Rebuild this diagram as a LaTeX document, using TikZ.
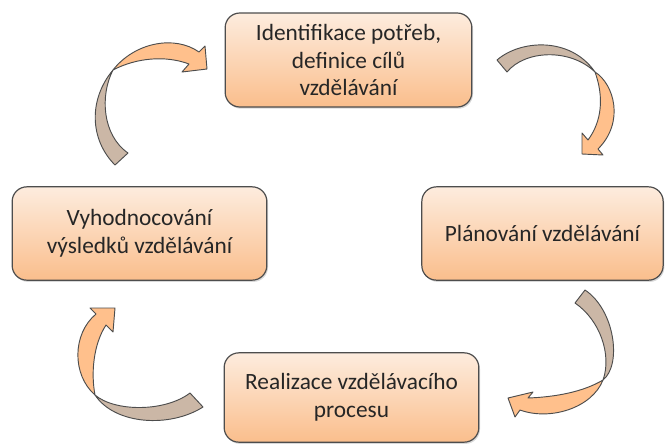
\documentclass[tikz,border=0pt]{standalone}
\usepackage{fontspec}
\setmainfont{Carlito}
\usetikzlibrary{shadows}
\definecolor{boxtop}{RGB}{253,236,222}
\definecolor{boxbot}{RGB}{250,190,140}
\definecolor{arrtan}{RGB}{203,183,166}
\definecolor{arrorange}{RGB}{255,192,140}
\definecolor{edgegray}{RGB}{77,77,77}
\definecolor{txtgray}{RGB}{38,38,38}
\begin{document}
\begin{tikzpicture}[x=0.75pt,y=-0.75pt,
  stagebox/.style={draw=edgegray, line width=0.9pt, rounded corners=11pt,
    top color=boxtop, bottom color=boxbot, text=txtgray, align=center,
    font=\fontsize{17.5}{20.6}\selectfont, inner sep=0pt,
    drop shadow={shadow xshift=0.9pt, shadow yshift=-1.3pt, opacity=0.3}},
  backband/.style={draw=edgegray, line width=0.7pt, line join=round, fill=arrtan},
  frontband/.style={draw=edgegray, line width=0.7pt, line join=round, fill=arrorange}]
\useasboundingbox (0,0) rectangle (667,444);

% stage boxes
\node[stagebox, minimum width=185pt, minimum height=70.5pt] (ident) at (348.5,60)
  {Identifikace potřeb,\\definice cílů\\vzdělávání};
\node[stagebox, minimum width=181pt, minimum height=70pt] (plan) at (542.5,233.5)
  {Plánování vzdělávání};
\node[stagebox, minimum width=191pt, minimum height=67pt] (real) at (351.5,397.5)
  {Realizace vzdělávacího\\procesu};
\node[stagebox, minimum width=191pt, minimum height=70pt] (eval) at (139.5,233.5)
  {Vyhodnocování\\výsledků vzdělávání};

% top-right arrow
\draw[backband] (497,60) .. controls (520,40) and (570,36) .. (595,72)
  .. controls (570,48) and (525,50) .. (507,72) -- cycle;
\draw[frontband] (595,72) .. controls (614,84) and (625,122) .. (598,149)
  -- (603,155) -- (582,154) -- (582,133) -- (588,140)
  .. controls (602,121) and (604,97) .. (595,72) -- cycle;

% bottom-right arrow
\draw[backband] (585,290) .. controls (615,310) and (622,365) .. (603,380)
  .. controls (612,355) and (600,320) .. (575,303) -- cycle;
\draw[frontband] (603,380) .. controls (592,408) and (550,421) .. (520,410)
  -- (515,417) -- (508,398) -- (533,392) -- (528,398)
  .. controls (555,397) and (583,392) .. (603,380) -- cycle;

% bottom-left arrow
\draw[backband] (203,407) .. controls (170,428) and (115,425) .. (95,395)
  .. controls (115,412) and (165,412) .. (190,393) -- cycle;
\draw[frontband] (95,395) .. controls (72,375) and (72,334) .. (96,314)
  -- (90,308) -- (115,308) -- (113,332) -- (106,325)
  .. controls (93,345) and (91,374) .. (95,395) -- cycle;

% top-left arrow
\draw[backband] (115,165) .. controls (90,140) and (88,100) .. (113,70)
  .. controls (100,95) and (102,135) .. (128,153) -- cycle;
\draw[frontband] (113,70) .. controls (135,42) and (175,35) .. (199,52)
  -- (205,46) -- (207,69) -- (182,72) -- (189,64)
  .. controls (165,55) and (136,58) .. (113,70) -- cycle;
\end{tikzpicture}
\end{document}
